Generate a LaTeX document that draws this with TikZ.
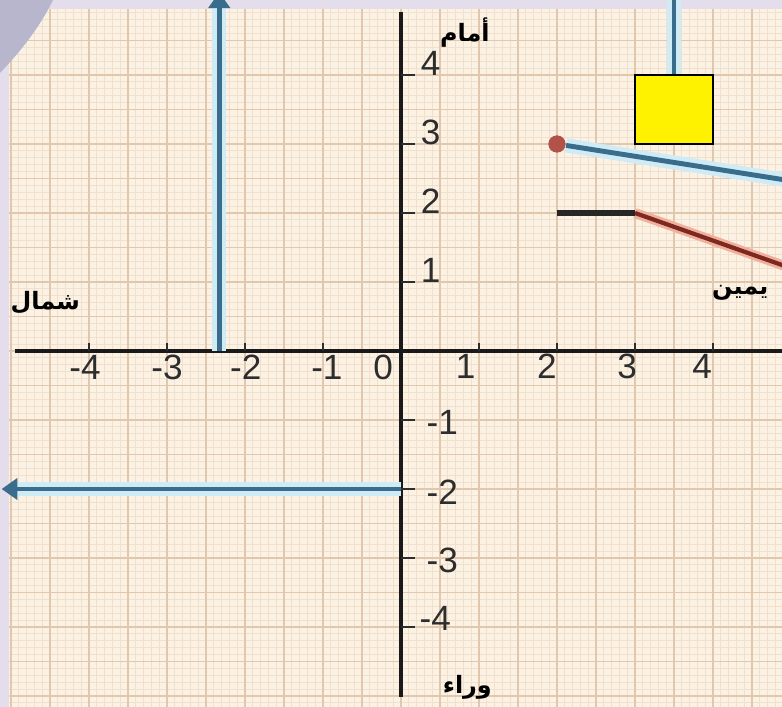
\documentclass[tikz,border=0pt]{standalone}
\usepackage{fontspec}
\setmainfont{Liberation Sans}
\newfontfamily\arabicfont[Script=Arabic]{DejaVu Sans}
\TeXXeTstate=1
\usetikzlibrary{arrows.meta}
\definecolor{paperC} {RGB}{252, 242, 228}
\definecolor{minorC} {RGB}{241, 224, 205}
\definecolor{majorC} {RGB}{224, 199, 174}
\definecolor{edgeC}  {RGB}{228, 222, 236}
\definecolor{blobC}  {RGB}{184, 182, 204}
\definecolor{blueC}  {RGB}{ 58, 108, 140}
\definecolor{haloC}  {RGB}{206, 235, 246}
\definecolor{redC}   {RGB}{125,  40,  32}
\definecolor{salmonC}{RGB}{242, 176, 156}
\definecolor{dotC}   {RGB}{178,  82,  72}
\definecolor{yelC}   {RGB}{255, 242,   0}
\definecolor{numC}   {RGB}{ 45,  45,  45}
\tikzset{
  num/.style    = {font=\fontsize{10}{12}\selectfont, text=numC, inner sep=0pt},
  dirlbl/.style = {font=\arabicfont\bfseries\fontsize{6.8}{8}\selectfont,
                   inner sep=0pt},
  halo/.style   = {line width=4pt, color=#1},
  vec/.style    = {line width=1.4pt, color=#1},
  axis/.style   = {line width=1.1pt, color=black!90},
  tk/.style     = {line width=0.5pt, color=numC},
  tip/.style    = {-{Triangle[length=4.5pt, width=6pt]}},
}

\begin{document}
\begin{tikzpicture}[x=0.78cm, y=0.69cm]

% ---- Paper ------------------------------------------------------------------
\clip (-4.01cm,-3.56cm) rectangle (3.81cm,3.51cm);
\useasboundingbox (-4.01cm,-3.56cm) rectangle (3.81cm,3.51cm);
\fill[paperC] (-5.2,-5.2) rectangle (5,5.2);
\draw[minorC, line width=0.25pt, step=0.1] (-5.2,-5.2) grid (5,5.2);
\draw[majorC, line width=0.35pt, step=0.5] (-5.2,-5.2) grid (5,5.2);
\draw[majorC, line width=0.6pt,  step=1]   (-5.2,-5.2) grid (5,5.2);
\fill[edgeC] (-4.01cm,-3.56cm) rectangle (-3.92cm,3.51cm);
\fill[edgeC] (-4.01cm,3.42cm) rectangle (3.81cm,3.51cm);
\fill[blobC] (-4.01cm,3.51cm) -- (-3.48cm,3.51cm)
  .. controls (-3.62cm,3.22cm) and (-3.82cm,2.98cm) .. (-4.01cm,2.78cm) -- cycle;

% ---- Axes -------------------------------------------------------------------
\coordinate (xl) at (-4.95,0);
\coordinate (xr) at (5,0);
\coordinate (yt) at (0,4.91);
\coordinate (yb) at (0,-5.01);
\draw[axis] (xl) -- (xr);
\draw[axis] (yb) -- (yt);

\foreach \k in {-4,-3,-2,-1,1,2,3,4}
  \draw[tk] (\k,0) -- (\k,0.12);
\foreach \k in {-4,-3,-2,-1,1,2,3,4}
  \draw[tk] (0,\k) -- (0.18,\k);

% ---- Numbers ----------------------------------------------------------------
\foreach \k/\px in {4/-4.05, 3/-3.0, 2/-1.99, 1/-0.95}
  \node[num] (xn\k) at (\px,-0.24) {-\k};
\node[num] (xn0) at (-0.23,-0.24) {0};
\foreach \k/\px in {1/0.83, 2/1.87, 3/2.9, 4/3.86}
  \node[num] (xp\k) at (\px,-0.22) {\k};
\foreach \k in {1,2,3,4}
  \node[num] (yp\k) at (0.38,\k+0.17) {\k};
\foreach \k in {1,2,3}
  \node[num] (yn\k) at (0.53,-\k-0.04) {-\k};
\node[num] (yn4) at (0.44,-3.88) {-4};

% ---- Directions -------------------------------------------------------------
\node[dirlbl] (front) at (0.82,4.62)   {\beginR أمام\endR};
\node[dirlbl] (right) at (4.35,0.84)   {\beginR يمين\endR};
\node[dirlbl] (left)  at (-4.56,0.70)  {\beginR شمال\endR};
\node[dirlbl] (back)  at (0.85,-4.88)  {\beginR وراء\endR};

% ---- Blue vectors -----------------------------------------------------------
\coordinate (upA) at (-2.33,0);
\coordinate (upB) at (-2.33,5.2);
\draw[halo=haloC] (upA) -- (upB);
\draw[vec=blueC, tip] (upA) -- (upB);

\coordinate (lfA) at (0,-2);
\coordinate (lfB) at (-5.12,-2);
\draw[halo=haloC, shorten >=3pt] (lfA) -- (lfB);
\draw[vec=blueC, tip] (lfA) -- (lfB);

% ---- Hanging box ------------------------------------------------------------
\node[draw=black, line width=0.7pt, fill=yelC, inner sep=0pt,
      minimum width=0.78cm, minimum height=0.69cm] (box) at (3.5,3.5) {};
\coordinate (rope) at (3.5,5.2);
\draw[halo=haloC] (box.north) -- (rope);
\draw[vec=blueC] (box.north) -- (rope);

% ---- Dot with slanted line --------------------------------------------------
\node[circle, fill=dotC, inner sep=0pt, minimum size=0.17cm] (dot) at (2,3) {};
\coordinate (slA) at (5.2,2.43);
\draw[halo=haloC] (dot) -- (slA);
\draw[vec=blueC] (dot) -- (slA);
\fill[dotC] (dot) circle (0.085cm);

% ---- Bent bar ---------------------------------------------------------------
\coordinate (barA) at (2,2);
\coordinate (barB) at (3,2);
\coordinate (barC) at (5.2,1.12);
\draw[halo=salmonC, line width=2.8pt] (barB) -- (barC);
\draw[vec=redC, line width=1.2pt] (barB) -- (barC);
\draw[line width=1.7pt, black!85] (barA) -- (barB);

\end{tikzpicture}
\end{document}
